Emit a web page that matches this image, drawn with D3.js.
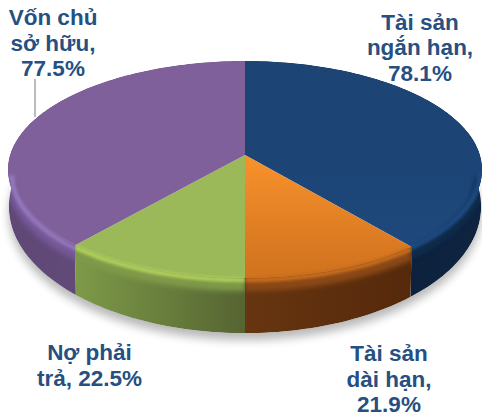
<!DOCTYPE html>
<html>
<head>
<meta charset="utf-8">
<script src="https://cdn.jsdelivr.net/npm/d3@7"></script>
<style>
  html, body { margin: 0; padding: 0; background: #fff; }
  svg { display: block; }
</style>
</head>
<body>
<div id="chart"></div>
<script>
// chart values: each side (assets / capital) adds up to 100%
const categories = ["Tài sản ngắn hạn", "Tài sản dài hạn", "Nợ phải trả", "Vốn chủ sở hữu"];
const shares = [78.1, 21.9, 22.5, 77.5];
const labelLines = [
  ["Tài sản", "ngắn hạn,", "78.1%"],
  ["Tài sản", "dài hạn,", "21.9%"],
  ["Nợ phải", "trả, 22.5%"],
  ["Vốn chủ", "sở hữu,", "77.5%"]
];

// styles, same order as categories
const topColors = [["#1c4475", "#1f4a7e"], ["#f8922c", "#d2731f"], ["#9bb959", "#9bb959"], ["#7f609a", "#7f609a"]];
const sideColors = [["#0a1c36", "#0e2440"], ["#673510", "#55290c"], ["#7d9a48", "#566432"], ["#5f4875", "#6a4f82"]];
const rimLight = ["#1e4a80", "#c96d1e", "#b0d05c", "#9577bb"];
const rimMid = ["#10294a", "#8a4a16", "#7f9a48", "#75589a"];
const rimShiftX = [-2, 0, 0, 4];
const rimShiftY = [0, 0, 0, 3];
const labelX = [420, 389, 89.5, 53];
const labelY = [29.5, 361, 360, 25];

const width = 482, height = 416;
const apexX = 245;
const persp = 0.1336;
const frontMargin = 0.14;

const svg = d3.select("#chart").append("svg")
  .attr("width", width)
  .attr("height", height);
const defs = svg.append("defs");

function addBlur(id, dev) {
  defs.append("filter")
    .attr("id", id)
    .attr("filterUnits", "userSpaceOnUse")
    .attr("x", -20).attr("y", 0)
    .attr("width", width + 40).attr("height", height)
    .append("feGaussianBlur").attr("stdDeviation", dev);
}
addBlur("blurShadow", 5);
addBlur("blurBand", 2.5);
addBlur("blurRim", 1.7);

// tilted disc, the near edge comes out bigger than the far edge
function project(disc, a) {
  const u = Math.sin(a), v = Math.cos(a);
  const w = 1 + persp * v;
  return [apexX + disc.rx * u / w, disc.y0 - disc.h * v / w];
}
const topDisc = { rx: 235, y0: 155, h: 106.6 };
const baseDisc = { rx: 234, y0: 190, h: 124 };

function arcPoints(disc, a0, a1) {
  const n = Math.max(2, Math.ceil(Math.abs(a1 - a0) * 40));
  return d3.range(n + 1).map(i => project(disc, a0 + (a1 - a0) * i / n));
}

const line = d3.line();
const pie = d3.pie().sort(null);
const slices = pie(shares);

// soft shadow under the disc
svg.append("path")
  .attr("d", line(arcPoints(baseDisc, 0, 2 * Math.PI)) + "Z")
  .attr("transform", "translate(0,7)")
  .attr("fill", "#000")
  .attr("opacity", 0.28)
  .attr("filter", "url(#blurShadow)");

slices.forEach((s, i) => {
  const topArc = arcPoints(topDisc, s.startAngle, s.endAngle);
  const baseArc = arcPoints(baseDisc, s.startAngle, s.endAngle);
  const wedge = line([[apexX, topDisc.y0]].concat(topArc)) + "Z";
  const side = line(topArc.concat(baseArc.slice().reverse())) + "Z";

  const clipId = "clip" + i;
  const clip = defs.append("clipPath").attr("id", clipId);
  clip.append("path").attr("d", wedge);
  clip.append("path").attr("d", side);

  const xs = topArc.map(p => p[0]).concat(baseArc.map(p => p[0]));
  const sideGrad = defs.append("linearGradient")
    .attr("id", "side" + i)
    .attr("gradientUnits", "userSpaceOnUse")
    .attr("x1", d3.min(xs)).attr("x2", d3.max(xs))
    .attr("y1", 0).attr("y2", 0);
  sideGrad.append("stop").attr("offset", 0).attr("stop-color", sideColors[i][0]);
  sideGrad.append("stop").attr("offset", 1).attr("stop-color", sideColors[i][1]);

  const topGrad = defs.append("linearGradient")
    .attr("id", "top" + i)
    .attr("gradientUnits", "userSpaceOnUse")
    .attr("x1", 0).attr("x2", 0)
    .attr("y1", topDisc.y0).attr("y2", topDisc.y0 + 115);
  topGrad.append("stop").attr("offset", 0).attr("stop-color", topColors[i][0]);
  topGrad.append("stop").attr("offset", 1).attr("stop-color", topColors[i][1]);

  const g = svg.append("g").attr("clip-path", `url(#${clipId})`);
  g.append("path").attr("d", side).attr("fill", `url(#side${i})`);
  g.append("path").attr("d", wedge).attr("fill", `url(#top${i})`);

  // rounded rim between the face and the side, only on the near half
  const a0 = Math.max(s.startAngle, Math.PI / 2 + frontMargin);
  const a1 = Math.min(s.endAngle, 3 * Math.PI / 2 - frontMargin);
  const rimArc = line(arcPoints(topDisc, a0, a1));
  g.append("path")
    .attr("d", rimArc)
    .attr("transform", `translate(${rimShiftX[i]},${8 + rimShiftY[i]})`)
    .attr("fill", "none")
    .attr("stroke", rimMid[i])
    .attr("stroke-width", 10)
    .attr("filter", "url(#blurBand)");
  g.append("path")
    .attr("d", rimArc)
    .attr("transform", `translate(${rimShiftX[i]},${2 + rimShiftY[i]})`)
    .attr("fill", "none")
    .attr("stroke", rimLight[i])
    .attr("stroke-width", 5)
    .attr("filter", "url(#blurRim)");
});

// leader line of the capital label
svg.append("line")
  .attr("x1", 35).attr("x2", 35)
  .attr("y1", 79).attr("y2", 117)
  .attr("stroke", "#a6a6a6")
  .attr("stroke-width", 1.5);

labelLines.forEach((lines, i) => {
  const t = svg.append("text")
    .attr("text-anchor", "middle")
    .attr("font-family", "'Liberation Sans', Arial, sans-serif")
    .attr("font-weight", "bold")
    .attr("font-size", 22.5)
    .attr("fill", "#264f82");
  lines.forEach((l, k) => {
    t.append("tspan")
      .attr("x", labelX[i])
      .attr("y", labelY[i] + k * 25.5)
      .text(l);
  });
});
</script>
</body>
</html>
